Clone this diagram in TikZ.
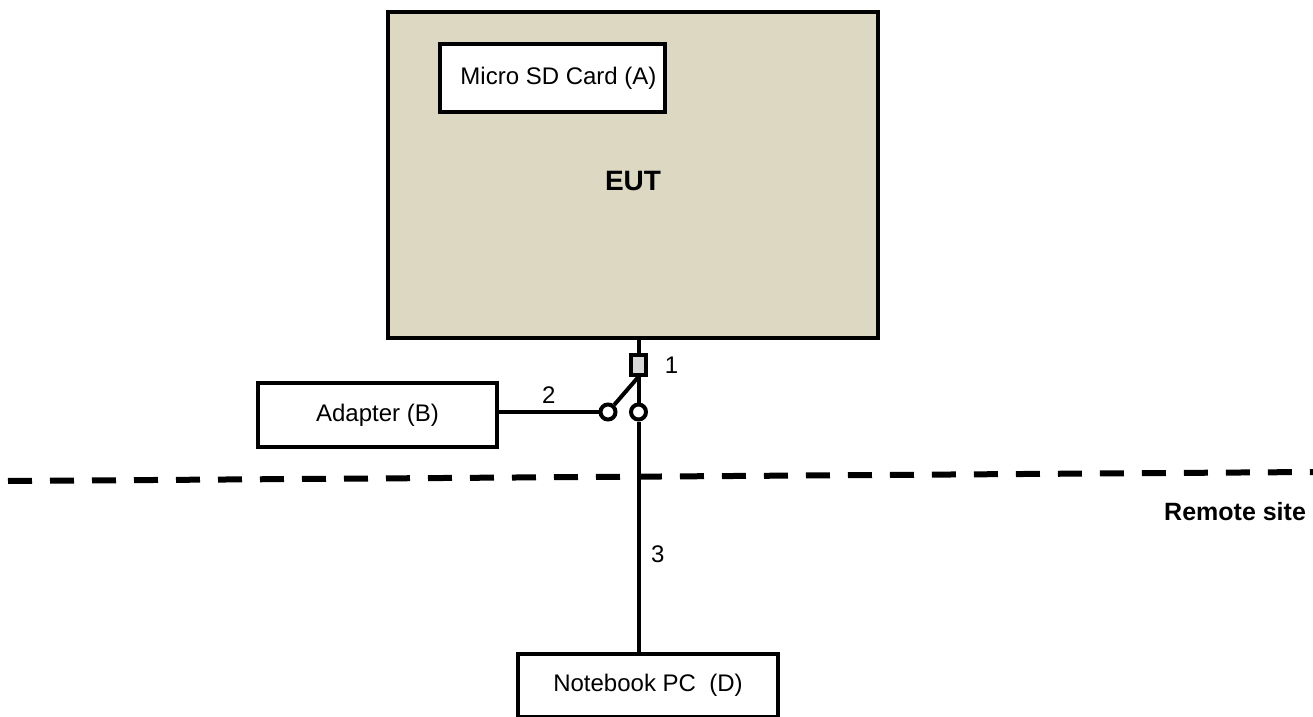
\documentclass[tikz,border=0pt]{standalone}
\usepackage{fontspec}
\setmainfont{Liberation Sans}
\usetikzlibrary{positioning}

\definecolor{eutfill}{RGB}{221,216,194}
\definecolor{plugfill}{RGB}{216,216,216}

\begin{document}
\begin{tikzpicture}[x=0.5pt,y=-0.5pt,
        box/.style={draw,line width=2pt,fill=white,inner sep=0pt,font=\fontsize{12}{14}\selectfont},
        wire/.style={line width=2pt},
        contact/.style={draw,circle,line width=2pt,fill=white,inner sep=0pt,minimum size=7.5pt},
        num/.style={font=\fontsize{12}{14}\selectfont},
        boundary/.style={line width=3pt,dash pattern=on 12pt off 9pt}]

        \useasboundingbox (0,0) rectangle (1313,717);

        % ============================================
        % EUT WITH MICRO SD CARD
        % ============================================

        \node[box,fill=eutfill,minimum width=245pt,minimum height=163pt] (eut) at (633,175) {};
        \node[font=\fontsize{14}{16}\selectfont\bfseries] (eutlabel) at (633,181) {EUT};
        \node[box,minimum width=112.5pt,minimum height=34pt] (sdcard) at (552.5,78) {\hspace{6pt}Micro SD Card (A)};

        % ============================================
        % PLUG AND SWITCH
        % ============================================

        \node[draw,line width=1.8pt,fill=plugfill,minimum width=7.5pt,minimum height=10pt,inner sep=0pt] (plug) at (638.5,365) {};
        \node[num,right=5pt of plug] (n1) {1};

        \node[contact] (swL) at (608,412) {};
        \node[contact] (swR) at (638.5,412) {};

        \draw[wire] (plug.north) -- (plug.north |- eut.south);
        \draw[wire] (plug.south) -- (swL);
        \draw[wire] (plug.south) -- (swR);

        % ============================================
        % ADAPTER
        % ============================================

        \node[box,minimum width=119.5pt,minimum height=32pt] (adapter) at (377.5,415) {Adapter (B)};
        \draw[wire] (adapter.east |- swL) -- node[num,above=0pt] (n2) {2} (swL);

        % ============================================
        % REMOTE SITE
        % ============================================

        \draw[boundary] (8,481) -- (1313,472);
        \node[font=\fontsize{12.5}{14}\selectfont\bfseries,anchor=east] (remote) at (1313,512) {Remote site};

        % Notebook PC
        \node[box,minimum width=130pt,minimum height=31.5pt] (notebook) at (648,685) {Notebook PC\ \ (D)\hspace{7pt}};
        \draw[wire] (swR) -- node[num,right=2pt,pos=0.575] (n3) {3} (swR |- notebook.north);

\end{tikzpicture}
\end{document}
